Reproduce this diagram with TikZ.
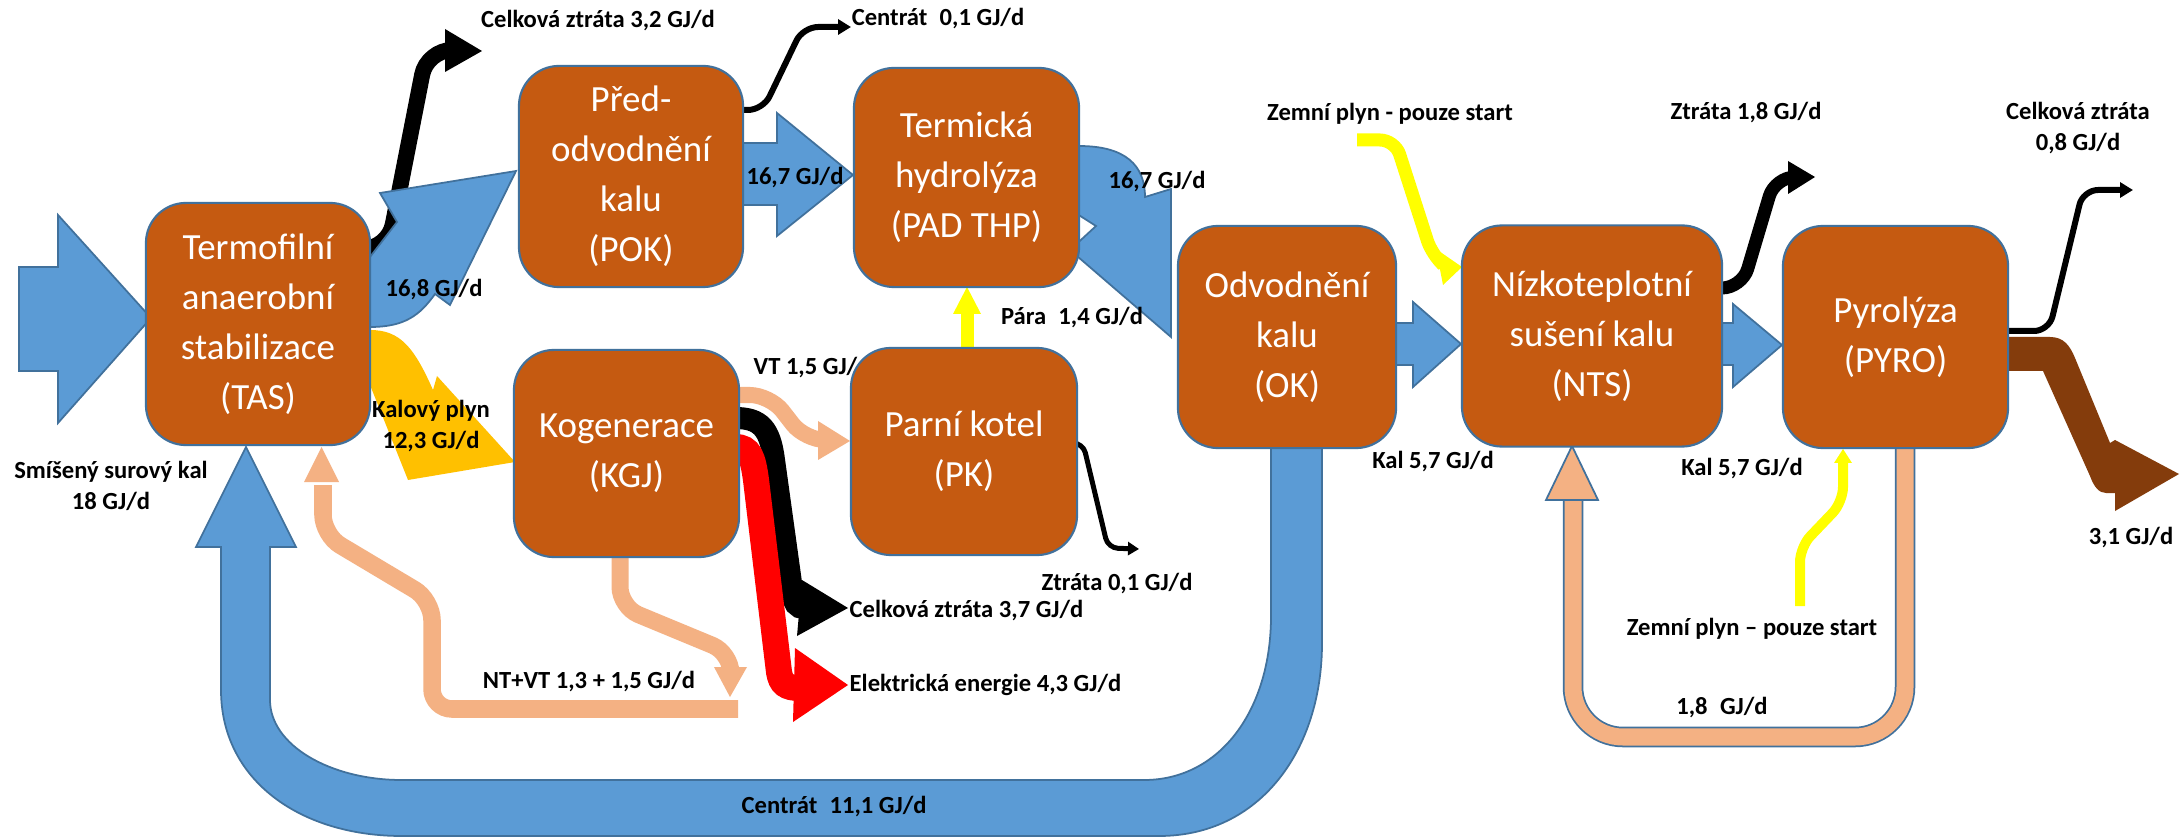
\documentclass[tikz,border=0pt]{standalone}
\usepackage{fontspec}
\setmainfont{Carlito}
\usetikzlibrary{arrows.meta}

\definecolor{boxfill}{HTML}{C55A11}
\definecolor{boxline}{HTML}{41719C}
\definecolor{flowblue}{HTML}{5B9BD5}
\definecolor{gasgold}{HTML}{FFC000}
\definecolor{heatpeach}{HTML}{F4B183}
\definecolor{charbrown}{HTML}{843C0C}
\definecolor{gasyellow}{HTML}{FFFF00}
\definecolor{powerred}{HTML}{FF0000}

\tikzset{
  unitbox/.style={draw=boxline, line width=0.6pt, fill=boxfill, rounded corners=4mm,
    text=white, align=center, inner sep=0pt, font=\fontsize{10.5}{14.2}\selectfont},
  flowlabel/.style={font=\fontsize{7}{9}\selectfont\bfseries, inner sep=0pt, align=center},
  blueflow/.style={fill=flowblue, draw=boxline, line width=0.5pt, line join=miter},
  lossline/.style={draw=black, line width=0.6mm, rounded corners=1.5mm,
    -{Triangle[length=1.3mm,width=1.5mm]}},
}

\begin{document}
\begin{tikzpicture}[x=0.01cm, y=-0.01cm]
\useasboundingbox (0,0) rectangle (2182,840);
\fill[white] (0,0) rectangle (2182,840);

% ---------- centrate return loop (OK -> TAS) ----------
\path[blueflow] (1322,440) -- (1322,643) .. controls (1322,750) and (1260,836) .. (1159,836)
  -- (402,836) .. controls (300,836) and (221,780) .. (221,690) -- (221,547) -- (196,547)
  -- (246,447) -- (296,547) -- (270,547) -- (270,700)
  .. controls (270,745) and (330,780) .. (402,780) -- (1144,780)
  .. controls (1220,780) and (1271,710) .. (1271,616) -- (1271,440) -- cycle;

% ---------- heat return to TAS ----------
\draw[heatpeach, line width=1.75mm, rounded corners=2mm]
  (738,709) -- (432,709) -- (432,600) -- (323,535) -- (323,485);
\fill[heatpeach] (304,482) -- (321.5,447) -- (339,482) -- cycle;
\draw[heatpeach, line width=1.7mm, rounded corners=2mm]
  (620,550) -- (620,607) -- (731,653) -- (731,670);
\fill[heatpeach] (714,667) -- (730,697) -- (747,667) -- cycle;

% ---------- raw sludge input ----------
\path[blueflow] (19,267) -- (58,267) -- (58,215) -- (151,318) -- (58,423) -- (58,371) -- (19,371) -- cycle;

% ---------- TAS outputs ----------
\draw[black, line width=1.6mm, rounded corners=2.5mm] (365,249) -- (388,249) -- (427,50) -- (448,50);
\fill[black] (445,29) -- (482,51) -- (445,72) -- cycle;
\path[blueflow] (365,327) -- (370,327) .. controls (405,327) and (420,315) .. (435,294) -- (450,305)
  -- (516,171) -- (380,193) -- (397,222) -- (370,257) -- (365,257) -- cycle;
\path[fill=gasgold] (365,330) -- (370,330) .. controls (400,330) and (414,347) .. (433,390)
  -- (437,376) -- (515,462) -- (408,480) -- (370,385) -- (365,385) -- cycle;

% ---------- POK -> THP ----------
\path[blueflow] (738,143) -- (777,143) -- (777,113) -- (853,175) -- (777,236) -- (777,205) -- (738,205) -- cycle;
\draw[lossline] (738,110) -- (763,110) -- (803,27) -- (851,27);

% ---------- THP -> OK ----------
\path[blueflow] (1074,146) -- (1079,146) .. controls (1125,146) and (1145,165) .. (1145,197)
  -- (1171,189) -- (1171,337) -- (1070,250) -- (1096,226) -- (1074,212) -- cycle;

% ---------- steam PK -> THP ----------
\draw[gasyellow, line width=1.3mm] (967,350) -- (967,312);
\fill[gasyellow] (953,314) -- (967,287) -- (981,314) -- cycle;

% ---------- KGJ outputs ----------
\draw[heatpeach, line width=1.6mm, rounded corners=2mm] (735,395) -- (770,395) -- (805,440) -- (820,440);
\fill[heatpeach] (818,421) -- (850,441) -- (818,460) -- cycle;
\draw[black, line width=2.2mm] (735,418) .. controls (760,418) and (770,428) .. (774,460)
  -- (792,590) .. controls (794,604) and (796,608) .. (805,608);
\fill[black] (802,580) -- (848,608) -- (797,636) -- cycle;
\draw[powerred, line width=2.6mm] (735,447) .. controls (750,447) and (753,458) .. (756,480)
  -- (779,672) .. controls (781,684) and (786,688) .. (800,688);
\fill[powerred] (795,648) -- (848,685) -- (793,722) -- cycle;

% ---------- PK loss ----------
\draw[black, line width=0.5mm, rounded corners=1mm, -{Triangle[length=1.1mm,width=1.3mm]}]
  (1072,443) -- (1083,443) -- (1108,548) -- (1139,549);

% ---------- OK -> NTS -> PYRO ----------
\path[blueflow] (1390,323) -- (1413,323) -- (1413,302) -- (1461,344) -- (1413,387) -- (1413,365) -- (1390,365) -- cycle;
\path[blueflow] (1717,323) -- (1733,323) -- (1733,304) -- (1782,345) -- (1733,387) -- (1733,365) -- (1717,365) -- cycle;

% ---------- natural gas to NTS ----------
\draw[gasyellow, line width=1.3mm, rounded corners=1.5mm] (1357,140) -- (1395,140) -- (1432,255) -- (1441,263);
\fill[gasyellow] (1436,249) -- (1462,267) -- (1443,285) -- cycle;

% ---------- NTS loss ----------
\draw[black, line width=1.3mm, rounded corners=2mm] (1715,288) -- (1742,288) -- (1775,177) -- (1792,177);
\fill[black] (1788,161) -- (1815,177) -- (1788,194) -- cycle;

% ---------- heat loop PYRO -> NTS ----------
\draw[boxline, line width=1.7mm+1pt, rounded corners=5mm] (1905,440) -- (1905,737) -- (1573,737) -- (1573,498);
\draw[heatpeach, line width=1.7mm, rounded corners=5mm] (1905,440) -- (1905,737) -- (1573,737) -- (1573,497);
\path[fill=heatpeach, draw=boxline, line width=0.5pt] (1546,500) -- (1572,446) -- (1598,500) -- cycle;

% ---------- natural gas to PYRO ----------
\draw[gasyellow, line width=1mm, rounded corners=1.5mm] (1800,606) -- (1800,547) -- (1843,502) -- (1843,460);
\fill[gasyellow] (1834,463) -- (1843,449) -- (1852,463) -- cycle;

% ---------- PYRO outputs ----------
\draw[lossline] (1995,331) -- (2049,331) -- (2083,190) -- (2133,190);
\path[fill=charbrown] (1998,337) -- (2050,337) .. controls (2064,337) and (2070,346) .. (2075,358)
  -- (2110,443) -- (2115,440) -- (2179,474) -- (2115,511) -- (2115,493) -- (2106,493)
  .. controls (2099,493) and (2094,487) .. (2090,476) -- (2043,371) -- (1998,371) -- cycle;

% ---------- label partly covered by PK ----------
\node[flowlabel, anchor=west] (lvt) at (753,368) {VT 1,5 GJ/d};

% ---------- process units ----------
\node[unitbox, minimum width=2.24cm, minimum height=2.42cm] (tas) at (258,324)
  {Termofilní\\anaerobní\\stabilizace\\(TAS)};
\node[unitbox, minimum width=2.24cm, minimum height=2.21cm] (pok) at (631,176.5)
  {Před-\\odvodnění\\kalu\\(POK)};
\node[unitbox, minimum width=2.25cm, minimum height=2.19cm] (thp) at (966.5,177.5)
  {Termická\\hydrolýza\\(PAD THP)};
\node[unitbox, minimum width=2.25cm, minimum height=2.07cm] (kgj) at (626.5,453.5)
  {Kogenerace\\(KGJ)};
\node[unitbox, minimum width=2.26cm, minimum height=2.07cm] (pk) at (964,451.5)
  {Parní kotel\\(PK)};
\node[unitbox, minimum width=2.18cm, minimum height=2.22cm] (ok) at (1287,337)
  {Odvodnění\\kalu\\(OK)};
\node[unitbox, minimum width=2.60cm, minimum height=2.21cm] (nts) at (1592,336)
  {Nízkoteplotní\\sušení kalu\\(NTS)};
\node[unitbox, minimum width=2.25cm, minimum height=2.22cm] (pyro) at (1895.5,337)
  {Pyrolýza\\(PYRO)};

% ---------- flow labels ----------
\node[flowlabel] (l32) at (598,21) {Celková ztráta 3,2 GJ/d};
\node[flowlabel] (l01c) at (938,19) {Centrát\enspace 0,1 GJ/d};
\node[flowlabel] (l168) at (434,290) {16,8 GJ/d};
\node[flowlabel] (l167a) at (795,178) {16,7 GJ/d};
\node[flowlabel] (l167b) at (1157,182) {16,7 GJ/d};
\node[flowlabel] (lpara) at (1072,318) {Pára\enspace 1,4 GJ/d};
\node[flowlabel] (lgas) at (431,426) {Kalový plyn\\12,3 GJ/d};
\node[flowlabel] (lraw) at (111,486) {Smíšený surový kal\\18 GJ/d};
\node[flowlabel] (lntvt) at (589,682) {NT+VT 1,3 + 1,5 GJ/d};
\node[flowlabel, anchor=west] (l37) at (849,611) {Celková ztráta 3,7 GJ/d};
\node[flowlabel, anchor=west] (lel) at (849,685) {Elektrická energie 4,3 GJ/d};
\node[flowlabel] (l01z) at (1117,584) {Ztráta 0,1 GJ/d};
\node[flowlabel, anchor=west] (l111) at (741,807) {Centrát\enspace 11,1 GJ/d};
\node[flowlabel] (lkal1) at (1433,462) {Kal 5,7 GJ/d};
\node[flowlabel] (lkal2) at (1742,469) {Kal 5,7 GJ/d};
\node[flowlabel] (lzp1) at (1390,114) {Zemní plyn - pouze start};
\node[flowlabel] (l18z) at (1746,113) {Ztráta 1,8 GJ/d};
\node[flowlabel] (l08) at (2078,128) {Celková ztráta\\0,8 GJ/d};
\node[flowlabel] (l31) at (2131,538) {3,1 GJ/d};
\node[flowlabel] (lzp2) at (1752,629) {Zemní plyn – pouze start};
\node[flowlabel] (l18) at (1722,708) {1,8\enspace GJ/d};
\end{tikzpicture}
\end{document}
